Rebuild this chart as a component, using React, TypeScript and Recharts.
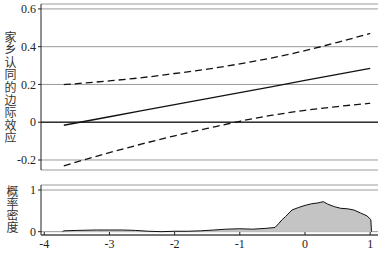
import React from "react";
import {
  ComposedChart,
  Line,
  Area,
  XAxis,
  YAxis,
  CartesianGrid,
  ReferenceLine,
} from "recharts";

// Marginal effect (top panel)
const effectX = [-3.7, -3.0, -2.5, -2.0, -1.5, -1.0, -0.5, 0.0, 0.5, 1.0];
const effectMid = [-0.016, 0.029, 0.061, 0.093, 0.125, 0.157, 0.189, 0.221, 0.253, 0.285];
const effectUpper = [0.199, 0.219, 0.236, 0.258, 0.281, 0.309, 0.341, 0.379, 0.423, 0.47];
const effectLower = [-0.231, -0.161, -0.115, -0.072, -0.033, 0.005, 0.037, 0.063, 0.083, 0.1];

// Density (bottom panel)
const densX = [
  -3.72, -3.7, -3.5, -3.2, -3.0, -2.8, -2.6, -2.4, -2.2, -2.0, -1.8, -1.6, -1.4, -1.2,
  -1.0, -0.8, -0.6, -0.46, -0.4, -0.35, -0.3, -0.2, -0.1, 0.0, 0.1, 0.2, 0.28, 0.35,
  0.45, 0.55, 0.65, 0.75, 0.85, 0.95, 1.01, 1.02,
];
const densY = [
  0, 0.02, 0.03, 0.04, 0.04, 0.04, 0.03, 0.01, 0.0, 0.01, 0.01, 0.02, 0.04, 0.06,
  0.07, 0.06, 0.08, 0.1, 0.2, 0.29, 0.36, 0.52, 0.58, 0.63, 0.67, 0.69, 0.72, 0.66,
  0.6, 0.56, 0.55, 0.52, 0.45, 0.38, 0.29, 0,
];

const xTicks = [-4, -3, -2, -1, 0, 1];
const topTicks = [-0.2, 0, 0.2, 0.4, 0.6];
const bottomTicks = [0, 1];
const topLabel = "家乡认同的边际效应";
const bottomLabel = "概率密度";

const effectData = effectX.map((x, i) => ({
  x,
  mid: effectMid[i],
  upper: effectUpper[i],
  lower: effectLower[i],
}));
const densData = densX.map((x, i) => ({ x, d: densY[i] }));

const X_DOMAIN: [number, number] = [-4.05, 1.12];
const SERIF = "'Liberation Serif', 'DejaVu Serif', serif";
const CJK = "'Noto Sans CJK SC', sans-serif";

const fmtY = (v: number) => (v === 0 ? "0" : String(v));

const XTick = (props: any) => {
  const { x, y, payload } = props;
  return (
    <g>
      <line x1={x} x2={x} y1={y - 3} y2={y} stroke="#222" strokeWidth={1} />
      <text x={x} y={y + 13} textAnchor="middle" fontFamily={SERIF} fontSize={12} fill="#222">
        {payload.value}
      </text>
    </g>
  );
};

const VerticalLabel = ({
  text,
  top,
  left,
  spacing,
}: {
  text: string;
  top: number;
  left: number;
  spacing: number;
}) => (
  <div
    style={{
      position: "absolute",
      top,
      left,
      writingMode: "vertical-rl",
      textOrientation: "upright",
      fontFamily: CJK,
      fontSize: 12,
      lineHeight: "14px",
      letterSpacing: `${spacing}px`,
      color: "#333",
      whiteSpace: "nowrap",
    }}
  >
    {text}
  </div>
);

export default function App() {
  return (
    <div
      style={{
        position: "fixed",
        top: 0,
        left: 0,
        width: 382,
        height: 255,
        background: "#fff",
        overflow: "hidden",
      }}
    >
      <VerticalLabel text={topLabel} top={31} left={3} spacing={0.6} />
      <VerticalLabel text={bottomLabel} top={185} left={5} spacing={0.2} />

      <div style={{ position: "absolute", top: 0, left: 0 }}>
        <ComposedChart
          width={382}
          height={175}
          data={effectData}
          margin={{ top: 4, right: 4, bottom: 5, left: 0 }}
        >
          <CartesianGrid horizontal vertical={false} stroke="#9a9a9a" strokeWidth={1} />
          <XAxis type="number" dataKey="x" domain={X_DOMAIN} hide allowDataOverflow />
          <YAxis
            type="number"
            domain={[-0.253, 0.626]}
            ticks={topTicks}
            width={41}
            tickSize={3}
            tickMargin={2}
            tickFormatter={fmtY}
            axisLine={{ stroke: "#222", strokeWidth: 1 }}
            tickLine={{ stroke: "#222" }}
            tick={{ fontFamily: SERIF, fontSize: 12, fill: "#222" }}
            allowDataOverflow
          />
          <ReferenceLine y={0} stroke="#333" strokeWidth={1.5} />
          <Line
            type="linear"
            dataKey="mid"
            stroke="#111"
            strokeWidth={1.3}
            dot={false}
            isAnimationActive={false}
          />
          <Line
            type="monotone"
            dataKey="upper"
            stroke="#111"
            strokeWidth={1.3}
            strokeDasharray="7 4"
            dot={false}
            isAnimationActive={false}
          />
          <Line
            type="monotone"
            dataKey="lower"
            stroke="#111"
            strokeWidth={1.3}
            strokeDasharray="7 4"
            dot={false}
            isAnimationActive={false}
          />
        </ComposedChart>
      </div>

      <div style={{ position: "absolute", top: 180, left: 0 }}>
        <ComposedChart
          width={382}
          height={75}
          data={densData}
          margin={{ top: 5, right: 4, bottom: 0, left: 0 }}
        >
          <CartesianGrid horizontal vertical={false} stroke="#9a9a9a" strokeWidth={1} />
          <XAxis
            type="number"
            dataKey="x"
            domain={X_DOMAIN}
            ticks={xTicks}
            height={20}
            tickSize={0}
            tickMargin={0}
            axisLine={{ stroke: "#222", strokeWidth: 1 }}
            tickLine={false}
            tick={<XTick />}
            allowDataOverflow
            interval={0}
          />
          <YAxis
            type="number"
            domain={[-0.08, 1.12]}
            ticks={bottomTicks}
            width={41}
            tickSize={3}
            tickMargin={2}
            axisLine={{ stroke: "#222", strokeWidth: 1 }}
            tickLine={{ stroke: "#222" }}
            tick={{ fontFamily: SERIF, fontSize: 12, fill: "#222" }}
            allowDataOverflow
          />
          <Area
            type="linear"
            dataKey="d"
            baseValue={0}
            stroke="#111"
            strokeWidth={1}
            fill="#c4c4c4"
            fillOpacity={1}
            dot={false}
            isAnimationActive={false}
          />
        </ComposedChart>
      </div>
    </div>
  );
}
